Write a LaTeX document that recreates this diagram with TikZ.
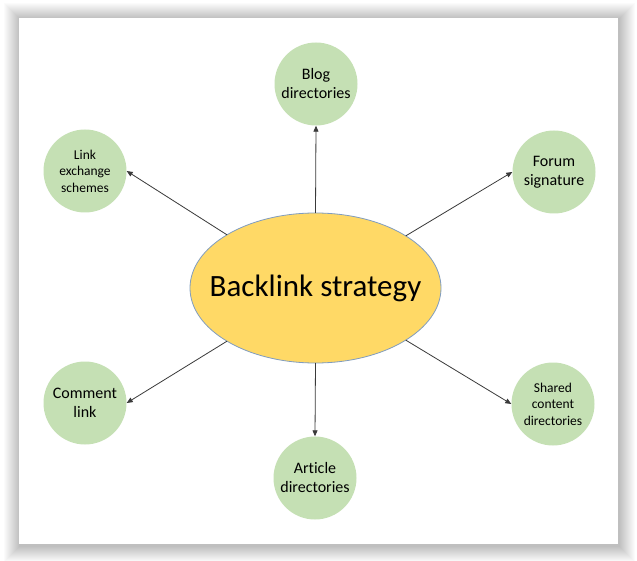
\documentclass[tikz,border=0pt]{standalone}
\usepackage{fontspec}
\setmainfont{Carlito}[Ligatures=NoCommon]
\usetikzlibrary{shapes.geometric,arrows.meta}
\definecolor{leaf}{HTML}{C5E0B4}
\definecolor{sun}{HTML}{FFD966}
\definecolor{rim}{HTML}{7F9CC0}
\definecolor{wire}{HTML}{3A3A3A}
\tikzset{
  bubble/.style={circle, fill=leaf, minimum size=83pt, inner sep=0pt, align=center, font=\fontsize{16}{19}\selectfont},
  smallbubble/.style={bubble, font=\fontsize{13.5}{16.5}\selectfont},
  hub/.style={ellipse, draw=rim, line width=0.8pt, fill=sun, minimum width=251pt, minimum height=150pt, inner xsep=-40pt, inner ysep=0pt, outer sep=0pt, font=\fontsize{31}{37}\selectfont},
  link/.style={draw=wire, line width=0.8pt, -{Triangle[length=6pt,width=5pt]}}
}
\begin{document}
\begin{tikzpicture}[x=1pt,y=-1pt]
\useasboundingbox (0,0) rectangle (637,561);
\fill[white] (0,0) rectangle (637,561);
% soft shadow
\foreach \i in {1,...,16}{
  \fill[black, opacity=0.014] (20-\i,19-\i) rectangle (619+\i,546+\i);
}
\fill[white] (19,18) rectangle (618,544);
\node[hub] (main) at (315.5,288) {Backlink strategy};
\node[bubble] (blog) at (316,84) {Blog\\directories};
\node[smallbubble] (linkx) at (85,171) {Link\\exchange\\schemes};
\node[bubble] (forum) at (554,172) {Forum\\signature};
\node[bubble] (comment) at (85,403) {Comment\\link};
\node[bubble] (article) at (315,478) {Article\\directories};
\node[smallbubble] (shared) at (553,404) {Shared\\content\\directories};
\draw[link] (main.north) -- (blog.south);
\draw[link] (main.149.1) -- (linkx.east);
\draw[link] (main.30.9) -- (forum.west);
\draw[link] (main.-149.1) -- (comment.east);
\draw[link] (main.-30.9) -- (shared.west);
\draw[link] (main.south) -- (article.north);
\end{tikzpicture}
\end{document}
